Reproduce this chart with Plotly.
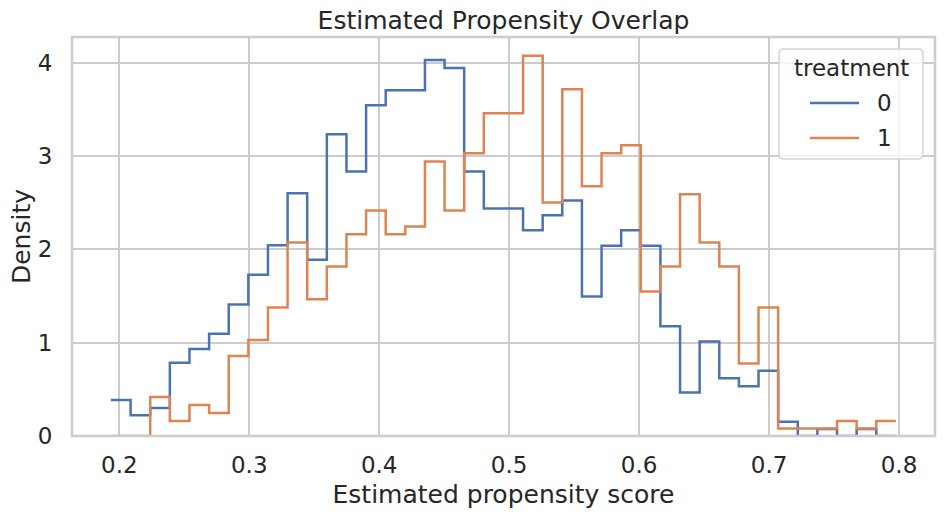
import numpy as np
import plotly.graph_objects as go

# ---- data ----
bin_start = 0.1936
bin_width = 0.0151
n_bins = 40

treatment_labels = ["0", "1"]

density_t0 = [0.387, 0.222, 0.301, 0.785, 0.932, 1.097, 1.409, 1.728, 2.043, 2.602,
              1.889, 3.233, 2.835, 3.545, 3.706, 3.706, 4.029, 3.943, 2.835, 2.437,
              2.437, 2.204, 2.366, 2.523, 1.495, 2.039, 2.204, 2.039, 1.176, 0.466,
              1.014, 0.620, 0.534, 0.699, 0.154, 0.0, 0.076, 0.0, 0.076, 0.0]

density_t1 = [0.0, 0.0, 0.419, 0.161, 0.333, 0.247, 0.857, 1.029, 1.376, 2.075,
              1.466, 1.817, 2.161, 2.416, 2.161, 2.244, 2.943, 2.416, 3.029, 3.459,
              3.459, 4.075, 2.502, 3.717, 2.677, 3.029, 3.115, 1.548, 1.817, 2.591,
              2.075, 1.817, 0.778, 1.376, 0.080, 0.080, 0.080, 0.161, 0.080, 0.161]

x_ticks = [0.2, 0.3, 0.4, 0.5, 0.6, 0.7, 0.8]
x_tick_text = ["0.2", "0.3", "0.4", "0.5", "0.6", "0.7", "0.8"]
y_ticks = [0, 1, 2, 3, 4]
y_tick_text = ["0", "1", "2", "3", "4"]

colors = ["#4C72B0", "#DD8452"]

# ---- figure geometry (pixels) ----
W, H = 944, 516
L, R, T, B = 72, 935, 37, 436
PW, PH = R - L, B - T

def px(xp):
    return (xp - L) / PW

def py(yp):
    return (B - yp) / PH

edges = bin_start + bin_width * np.arange(n_bins + 1)

fig = go.Figure()
for lab, dens, col in zip(treatment_labels, [density_t0, density_t1], colors):
    fig.add_trace(go.Scatter(
        x=edges, y=list(dens) + [dens[-1]],
        mode="lines", line=dict(shape="hv", color=col, width=2.5),
        name=lab, hoverinfo="skip", showlegend=False))

font_family = "DejaVu Sans"
grid = "#cccccc"
txt = "#262626"

shapes = [dict(type="rect", xref="paper", yref="paper", x0=0, y0=0, x1=1, y1=1,
               line=dict(color=grid, width=2.5), layer="above")]

# legend box (rounded)
lx0, lx1, ly0, ly1, r = 779, 923, 49, 159, 5
path = (f"M {px(lx0 + r)},{py(ly0)} L {px(lx1 - r)},{py(ly0)} "
        f"Q {px(lx1)},{py(ly0)} {px(lx1)},{py(ly0 + r)} "
        f"L {px(lx1)},{py(ly1 - r)} Q {px(lx1)},{py(ly1)} {px(lx1 - r)},{py(ly1)} "
        f"L {px(lx0 + r)},{py(ly1)} Q {px(lx0)},{py(ly1)} {px(lx0)},{py(ly1 - r)} "
        f"L {px(lx0)},{py(ly0 + r)} Q {px(lx0)},{py(ly0)} {px(lx0 + r)},{py(ly0)} Z")
shapes.append(dict(type="path", xref="paper", yref="paper", path=path,
                   fillcolor="rgba(255,255,255,0.8)", line=dict(color="#d5d5d5", width=1.5),
                   layer="above"))

annotations = [dict(text="treatment", xref="paper", yref="paper", x=px(851), y=py(68),
                    xanchor="center", yanchor="middle", showarrow=False,
                    font=dict(size=23, color=txt))]
entry_y = [103, 138]
for lab, col, yy in zip(treatment_labels, colors, entry_y):
    shapes.append(dict(type="line", xref="paper", yref="paper", x0=px(810), x1=px(859),
                       y0=py(yy), y1=py(yy), line=dict(color=col, width=2.5), layer="above"))
    annotations.append(dict(text=lab, xref="paper", yref="paper", x=px(875), y=py(yy),
                            xanchor="left", yanchor="middle", showarrow=False,
                            font=dict(size=23, color=txt)))

fig.update_layout(
    width=W, height=H,
    margin=dict(l=L, r=W - R, t=T, b=H - B),
    paper_bgcolor="white", plot_bgcolor="white",
    font=dict(family=font_family, size=23, color=txt),
    title=dict(text="Estimated Propensity Overlap", x=(L + R) / 2 / W, xanchor="center",
               y=1 - 20 / H, yanchor="middle", font=dict(size=25, color=txt)),
    showlegend=False,
    xaxis=dict(
        range=[0.1636, 0.8277], tickvals=x_ticks, ticktext=x_tick_text,
        showgrid=True, gridcolor=grid, gridwidth=2, zeroline=False, automargin=False,
        showline=False, ticks="outside", ticklen=8, tickcolor="rgba(0,0,0,0)",
        title=dict(text="Estimated propensity score", font=dict(size=25), standoff=8),
        tickfont=dict(size=23)),
    yaxis=dict(
        range=[0, 4.276], tickvals=y_ticks, ticktext=y_tick_text,
        showgrid=True, gridcolor=grid, gridwidth=2, zeroline=False, automargin=False,
        showline=False, ticks="outside", ticklen=14, tickcolor="rgba(0,0,0,0)",
        title=dict(text="Density", font=dict(size=25), standoff=0),
        tickfont=dict(size=23)),
    shapes=shapes,
    annotations=annotations,
)

fig.write_html("out.html", config={"displayModeBar": False},
               post_script="document.body.style.margin='0px';document.body.style.overflow='hidden';")
